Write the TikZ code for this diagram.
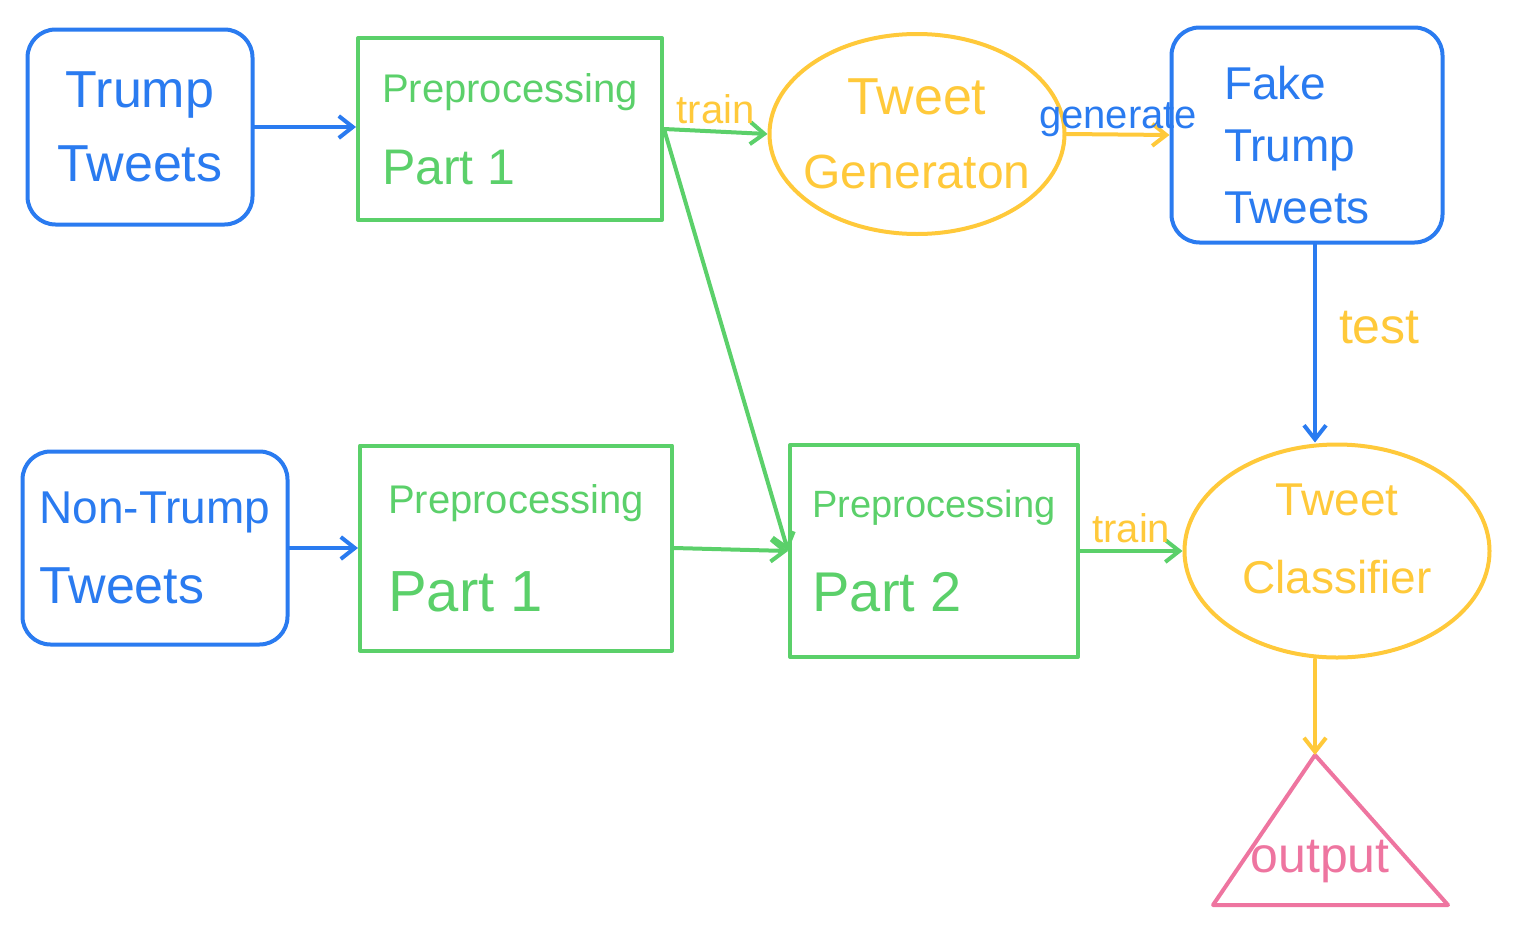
\documentclass[tikz,border=0pt]{standalone}
\usepackage{fontspec}
\setmainfont{Liberation Sans}
\usetikzlibrary{arrows.meta,shapes.geometric}
\definecolor{cblue}{HTML}{2A7BF0}
\definecolor{cgreen}{HTML}{5BD06A}
\definecolor{cyellow}{HTML}{FFC93A}
\definecolor{cpink}{HTML}{EE75A0}
\newcommand{\fs}[2]{\fontsize{#1}{#2}\selectfont}
\tikzset{
  x=0.5pt, y=-0.5pt,
  every path/.style={line width=2pt, line cap=round, line join=round},
  bluebox/.style={draw=cblue, text=cblue, rounded corners=14pt, inner sep=0pt},
  greenbox/.style={draw=cgreen, text=cgreen, inner sep=0pt},
  yellowell/.style={draw=cyellow, text=cyellow, ellipse, inner sep=0pt},
  conn/.style={-{Straight Barb[length=7pt,width=11pt,line width=2pt]}},
  lbl/.style={inner sep=1pt}
}
\begin{document}
\begin{tikzpicture}
\useasboundingbox (0,0) rectangle (1536,942);
% nodes
\node[bluebox, minimum width=112.5pt, minimum height=97.5pt, align=center, font=\fs{26}{37}] (tt) at (140,127)
  {Trump\\Tweets};
\node[greenbox, minimum width=152pt, minimum height=91pt, align=left, font=\fs{25}{41}] (p1a) at (510,129)
  {\fs{20}{24}Preprocessing\\Part 1};
\node[yellowell, minimum width=147.5pt, minimum height=100pt, inner xsep=-14pt, align=center, font=\fs{26}{37}] (gen) at (917,134)
  {Tweet\\\fs{24}{37}Generaton};
\node[bluebox, minimum width=135.5pt, minimum height=107.5pt, align=left, font=\fs{23}{31}] (fake) at (1307,135)
  {\rule{0pt}{27pt}Fake\\Trump\\Tweets\hspace*{10pt}};
\node[bluebox, minimum width=132.5pt, minimum height=96.5pt, align=left, font=\fs{26}{40}] (ntt) at (155,548)
  {\fs{23}{40}Non-Trump\\Tweets};
\node[greenbox, minimum width=156pt, minimum height=102.5pt, align=left, font=\fs{29}{49}] (p1b) at (516,548)
  {\fs{20}{24}Preprocessing\\Part 1};
\node[greenbox, minimum width=144pt, minimum height=106pt, align=left, font=\fs{28}{47}] (p2) at (934,551)
  {\fs{19}{24}Preprocessing\\Part 2};
\node[yellowell, minimum width=152.5pt, minimum height=106.5pt, align=center, font=\fs{23}{39}] (cls) at (1337,551)
  {Tweet\\Classifier\rule[-12pt]{0pt}{1pt}};
% output triangle
\coordinate (apex) at (1315,755);
\coordinate (bl) at (1213,905);
\coordinate (br) at (1448,905);
\draw[cpink] (apex) -- (br) -- (bl) -- cycle;
\node[text=cpink, inner sep=0pt, font=\fs{25}{30}] (out) at (1320,862) {output};
% connectors
\draw[cblue, conn] (tt.east) -- (tt.east -| p1a.west);
\draw[cgreen, conn] (p1a.east) -- (gen.west)
  node[lbl, text=cyellow, midway, above, yshift=2pt, font=\fs{20}{24}] (lt1) {train};
\draw[cgreen, conn] (p1a.east) -- (p2.west);
\draw[cyellow, conn] (gen.east) -- (fake.west)
  node[lbl, text=cblue, midway, above, yshift=-3pt, font=\fs{20}{24}] (lgen) {generate};
\draw[cblue, conn] (fake.south -| apex) -- (cls.north -| apex)
  node[lbl, text=cyellow, midway, right, xshift=10pt, yshift=8pt, font=\fs{25}{30}] (ltest) {test};
\draw[cblue, conn] (ntt.east) -- (p1b.west);
\draw[cgreen, conn] (p1b.east) -- (p2.west);
\draw[cgreen, conn] (p2.east) -- (cls.west)
  node[lbl, text=cyellow, midway, above, yshift=2pt, font=\fs{20}{24}] (lt2) {train};
\draw[cyellow, conn] (cls.south -| apex) -- (apex);
\end{tikzpicture}
\end{document}
